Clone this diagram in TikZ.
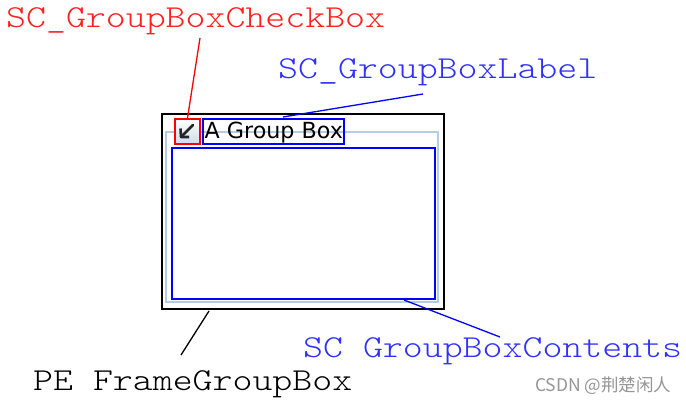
\documentclass[tikz,border=0pt]{standalone}
\usepackage{fontspec}
\setmainfont{DejaVu Sans}
\newfontfamily\monofam[FakeStretch=1.187]{Latin Modern Mono Light}
\newfontfamily\cjkfam{Noto Sans CJK SC}
\definecolor{lblred}{RGB}{255,32,32}
\definecolor{lblblue}{RGB}{48,48,255}
\definecolor{frameblue}{RGB}{182,204,228}
\definecolor{wmgray}{RGB}{150,150,150}
\tikzset{
  lbl/.style={inner sep=0pt, anchor=base west, font=\monofam\fontsize{32}{36}\selectfont},
  box/.style={inner sep=0pt},
  conn/.style={line width=1.3pt}
}
\begin{document}
\begin{tikzpicture}[x=1pt,y=-1pt]
\useasboundingbox[fill=white] (0,0) rectangle (686,404);
% outer frame
\node[box, draw=black, line width=2pt, minimum width=282pt, minimum height=195pt, anchor=north west] (frame) at (161,113) {};
% light blue groupbox frame
\draw[frameblue, line width=2pt] (166,132) rectangle (438,302);
% contents
\node[box, draw=blue, line width=2pt, minimum width=263pt, minimum height=151pt, anchor=north west] (contents) at (171,147) {};
% checkbox
\node[box, draw=red, line width=2pt, minimum width=25pt, minimum height=25pt, anchor=north west,
  top color=white, bottom color=frameblue!70] (check) at (174,118) {};
\draw[black!85, line width=2.6pt, line join=round] (180.5,128.5) -- (181,137) -- (189,137);
\draw[black!85, line width=2.6pt, line cap=round] (181,137) -- (193,125);
% label
\node[box, draw=blue, line width=2pt, minimum width=141pt, minimum height=25pt, anchor=north west] (glabel) at (202,118) {};
\node[inner sep=0pt, anchor=base west, font=\fontsize{22.2}{24}\selectfont] (gtext) at (204.5,138.5) {A Group Box};
% labels
\node[lbl, text=lblred] (lcheck) at (6,28) {SC\_GroupBoxCheckBox};
\node[lbl, text=lblblue] (llabel) at (278,79) {SC\_GroupBoxLabel};
\node[lbl, text=lblblue] (lcont) at (303,357) {SC GroupBoxContents};
\node[lbl, text=black] (lframe) at (33,390) {PE FrameGroupBox};
\node[inner sep=0pt, anchor=base west, text=wmgray, font=\cjkfam\fontsize{17.5}{20}\selectfont] (wm) at (535,391) {CSDN @荆楚闲人};
% connectors
\coordinate (ccheck) at (200,38);
\coordinate (clabel) at (423,94);
\coordinate (ccont) at (500,337);
\coordinate (cframe) at (181,355);
\draw[conn, red] (check.north) -- (ccheck);
\draw[conn, blue] (glabel.north west) ++(81,-1) -- (clabel);
\draw[conn, blue] (contents.south west) ++(233,0) -- (ccont);
\draw[conn, black] (frame.south west) ++(48,1) -- (cframe);
\end{tikzpicture}
\end{document}
